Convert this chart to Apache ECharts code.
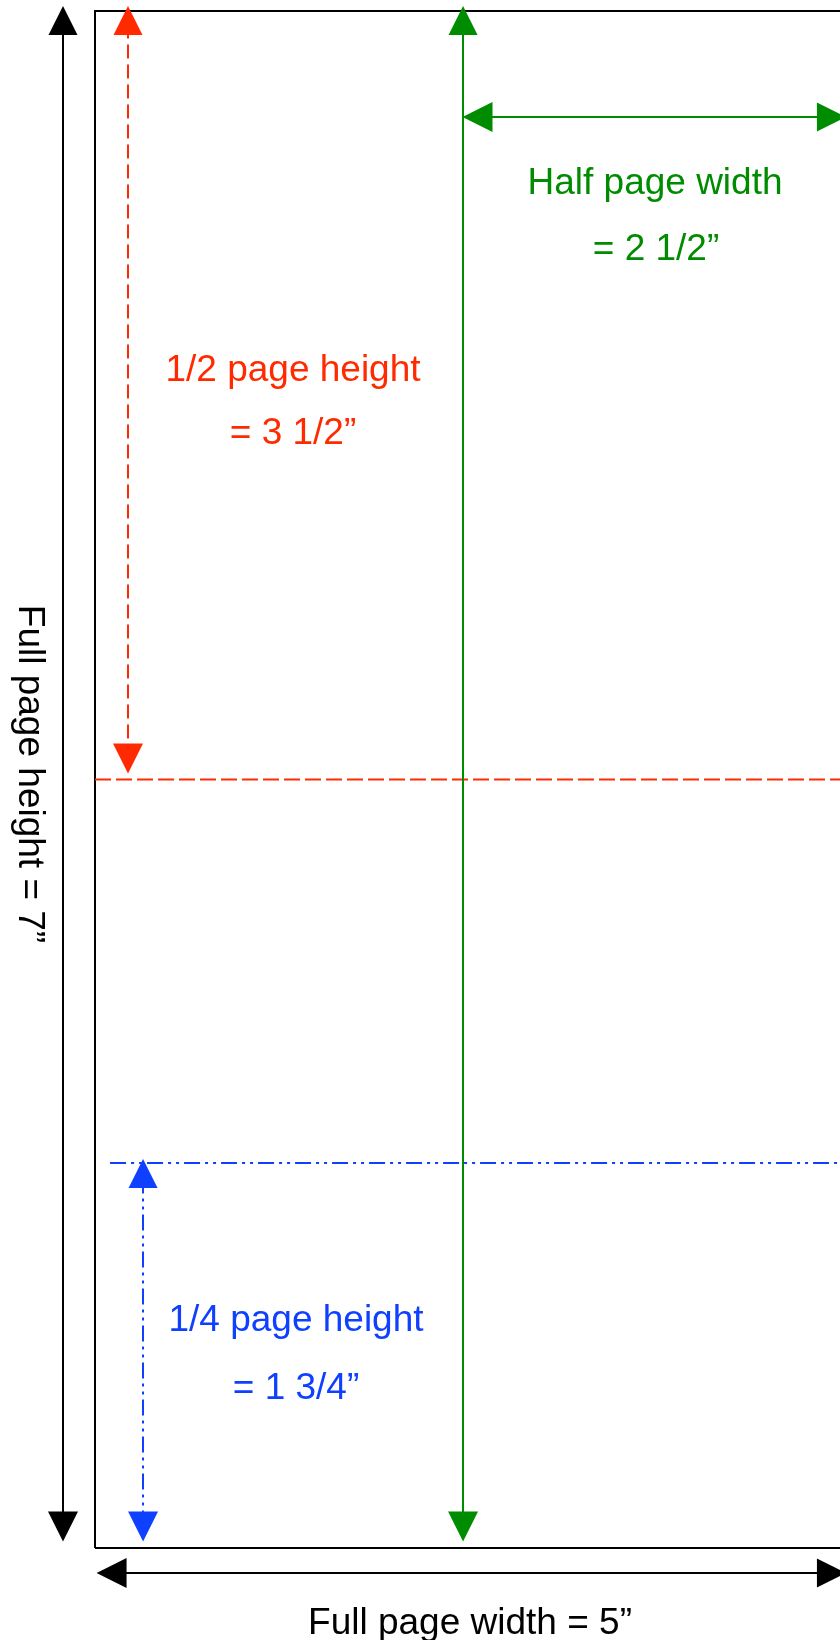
<!DOCTYPE html>
<html>
<head>
<meta charset="utf-8">
<script src="https://cdn.jsdelivr.net/npm/echarts@6/dist/echarts.min.js"></script>
<style>
html,body{margin:0;padding:0;background:#fff;}
#chart{width:840px;height:1640px;}
</style>
</head>
<body>
<div id="chart"></div>
<script>
// ---- data (inches; arrow ends are arrow-head centres) ----
const pageWidth = 5;
const pageHeight = 7;
const pageBox = [[0, 0], [5, 0], [5, 7], [0, 7], [0, 0]];
const fullHeightArrow = [[-0.2125, 0.098], [-0.2125, 6.957]];
const fullWidthArrow = [[0.110, -0.114], [4.890, -0.114]];
const halfHeightArrow = [[0.219, 3.596], [0.219, 6.957]];
const halfHeightLine = [[0, 3.5], [5, 3.5]];
const quarterHeightArrow = [[0.319, 0.098], [0.319, 1.706]];
const quarterHeightLine = [[0.1, 1.753], [5, 1.753]];
const halfWidthVArrow = [[2.444, 0.098], [2.444, 6.957]];
const halfWidthHArrow = [[2.540, 6.517], [4.890, 6.517]];
const labels = {
  halfWidth: ['Half page width', '= 2 1/2\u201D'],
  halfHeight: ['1/2 page height', '= 3 1/2\u201D'],
  quarterHeight: ['1/4 page height', '= 1 3/4\u201D'],
  fullWidth: 'Full page width = 5\u201D',
  fullHeight: 'Full page height = 7\u201D'
};

// ---- layout ----
const W = 840, H = 1640;
const x0px = 95, pxPerInX = 150.6;
const y0px = 1548, pxPerInY = 219.57;
const RED = '#ff2a00', GREEN = '#008c00', BLUE = '#1040ff', BLACK = '#000000';
const FONT = '"Liberation Sans", Arial, Helvetica, sans-serif';

const chart = echarts.init(document.getElementById('chart'), null, {renderer: 'canvas'});

function arrowSeries(coords, color, type) {
  return {
    type: 'lines',
    coordinateSystem: 'cartesian2d',
    polyline: false,
    clip: false,
    silent: true,
    symbol: ['triangle', 'triangle'],
    symbolSize: [30, 29],
    lineStyle: {color: color, width: 2, type: type, opacity: 1, curveness: 0},
    data: [{coords: coords}]
  };
}
function plainLine(coords, color, type, width) {
  return {
    type: 'lines',
    coordinateSystem: 'cartesian2d',
    polyline: true,
    clip: false,
    silent: true,
    symbol: ['none', 'none'],
    lineStyle: {color: color, width: width, type: type, opacity: 1},
    data: [{coords: coords}]
  };
}
function txt(x, y, text, color, rot) {
  return {
    type: 'text', x: x, y: y, rotation: rot || 0, silent: true,
    style: {text: text, fill: color, font: '37px ' + FONT, align: 'center', verticalAlign: 'middle'}
  };
}

const option = {
  animation: false,
  backgroundColor: '#ffffff',
  grid: {left: 0, top: 0, right: 0, bottom: 0, containLabel: false},
  xAxis: {type: 'value', min: -x0px / pxPerInX, max: (W - x0px) / pxPerInX, show: false},
  yAxis: {type: 'value', min: -(H - y0px) / pxPerInY, max: y0px / pxPerInY, show: false},
  series: [
    plainLine(pageBox, BLACK, 'solid', 2),
    plainLine(halfHeightLine, RED, [16, 5], 2),
    plainLine(quarterHeightLine, BLUE, [16, 5, 3, 5, 3, 5], 2),
    arrowSeries(fullHeightArrow, BLACK, 'solid'),
    arrowSeries(fullWidthArrow, BLACK, 'solid'),
    arrowSeries(halfHeightArrow, RED, [14, 6]),
    arrowSeries(quarterHeightArrow, BLUE, [16, 5, 3, 5, 3, 5]),
    arrowSeries(halfWidthVArrow, GREEN, 'solid'),
    arrowSeries(halfWidthHArrow, GREEN, 'solid')
  ],
  graphic: [
    txt(655, 184, labels.halfWidth[0], GREEN),
    txt(656, 250, labels.halfWidth[1], GREEN),
    txt(293, 371, labels.halfHeight[0], RED),
    txt(293, 434, labels.halfHeight[1], RED),
    txt(296, 1321, labels.quarterHeight[0], BLUE),
    txt(296, 1389, labels.quarterHeight[1], BLUE),
    txt(470, 1624, labels.fullWidth, BLACK),
    txt(29, 774, labels.fullHeight, BLACK, -Math.PI / 2)
  ]
};
chart.setOption(option);
</script>
</body>
</html>
